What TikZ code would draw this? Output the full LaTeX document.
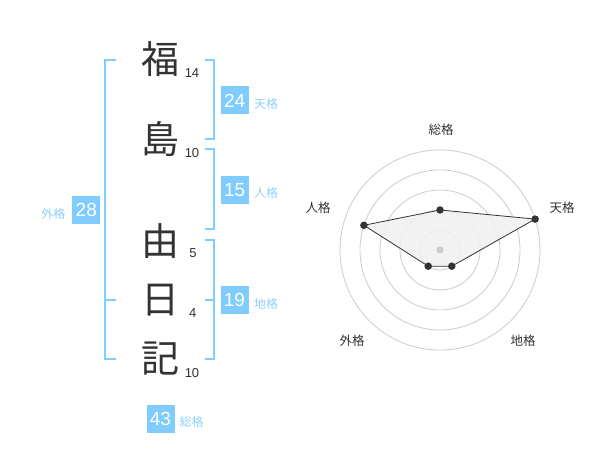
\documentclass[tikz,border=0pt]{standalone}
\usepackage{fontspec}
\setmainfont{Liberation Sans}
\newfontfamily\cjk{Noto Sans CJK JP}
\definecolor{boxblue}{HTML}{80CCFF}
\definecolor{lblblue}{HTML}{8FD1FA}
\definecolor{inkdark}{HTML}{333333}
\definecolor{ringgray}{HTML}{CCCCCC}
\definecolor{polyfill}{HTML}{F0F0F0}
\begin{document}
\begin{tikzpicture}[x=1pt,y=-1pt,
  kanji/.style={font=\cjk\fontsize{38}{38}\selectfont, text=inkdark, inner sep=0pt},
  stroke/.style={font=\fontsize{13}{13}\selectfont, text=inkdark, inner sep=0pt},
  valbox/.style={fill=boxblue, text=white, minimum width=28pt, minimum height=28pt, inner sep=0pt, font=\fontsize{19}{19}\selectfont},
  kaku/.style={font=\cjk\fontsize{12}{12}\selectfont, text=lblblue, inner sep=0pt},
  bracket/.style={draw=boxblue, line width=2pt},
  ring/.style={draw=ringgray, line width=0.8pt},
  rlabel/.style={font=\cjk\fontsize{12.5}{12.5}\selectfont, text=inkdark, inner sep=0pt},
  dot/.style={circle, fill=inkdark, inner sep=0pt, minimum size=7.5pt}]
\useasboundingbox (0,0) rectangle (600,470);
\fill[white] (0,0) rectangle (600,470);
% characters
\node[kanji] (k1) at (160,58.8) {福};
\node[kanji] (k2) at (160,139) {島};
\node[kanji] (k3) at (160,241) {由};
\node[kanji] (k4) at (160,300.5) {日};
\node[kanji] (k5) at (160,359) {記};
\node[stroke] (s1) at (192,73) {14};
\node[stroke] (s2) at (192,153) {10};
\node[stroke] (s3) at (193,252.7) {5};
\node[stroke] (s4) at (192.7,313.3) {4};
\node[stroke] (s5) at (192,372.7) {10};
% brackets
\draw[bracket] (116,60) -- (104.7,60) -- (104.7,359.3) -- (116,359.3);
\draw[bracket] (104.7,300) -- (116,300);
\draw[bracket] (205,60) -- (214.3,60) -- (214.3,139.3) -- (205,139.3);
\draw[bracket] (205,149.3) -- (214.3,149.3) -- (214.3,229) -- (205,229);
\draw[bracket] (205,240) -- (214.3,240) -- (214.3,359.3) -- (205,359.3);
\draw[bracket] (205,300) -- (214.3,300);
% value boxes
\node[valbox] (v24) at (234.7,100.5) {24};
\node[kaku] (l24) at (266,104) {天格};
\node[valbox] (v15) at (234.7,190) {15};
\node[kaku] (l15) at (266,193) {人格};
\node[valbox] (v19) at (234.5,300.3) {19};
\node[kaku] (l19) at (266,304.3) {地格};
\node[valbox] (v28) at (86.3,210) {28};
\node[kaku] (l28) at (53.3,214) {外格};
\node[valbox] (v43) at (160.5,419) {43};
\node[kaku] (l43) at (191.7,422.3) {総格};
% radar chart
\coordinate (c) at (440,250);
\foreach \r in {20,40,60,80,100} \draw[ring] (c) circle[radius=\r];
\coordinate (pS) at (440,210);
\coordinate (pT) at (535.1,219.1);
\coordinate (pC) at (451.8,266.2);
\coordinate (pG) at (428.2,266.2);
\coordinate (pJ) at (363.9,225.3);
\filldraw[fill=polyfill, fill opacity=0.85, draw=inkdark, line width=0.8pt] (pS) -- (pT) -- (pC) -- (pG) -- (pJ) -- cycle;
\fill[ringgray] (c) circle[radius=3.5];
\foreach \p in {pS,pT,pC,pG,pJ} \node[dot] at (\p) {};
\node[rlabel] (rS) at (441,130) {総格};
\node[rlabel] (rT) at (562,208) {天格};
\node[rlabel] (rJ) at (318,208) {人格};
\node[rlabel] (rG) at (352,341) {外格};
\node[rlabel] (rC) at (523,341) {地格};
\end{tikzpicture}
\end{document}
